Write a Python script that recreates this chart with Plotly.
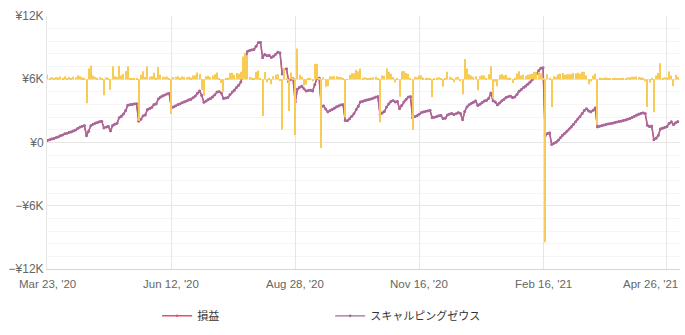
import numpy as np
import plotly.graph_objects as go

# Daily profit/loss in yen, one value per trading day
daily_pl = [
    190, 60, 80, 40, 90, 70, 110, 60, 120, 50,
    90, 40, 100, 80, 160, 120, 70, 60, -950, 420,
    530, 150, 90, 60, 80, 40, -630, 80, 60, -420,
    510, 120, 90, 520, 150, 210, 330, 510, 40, 30,
    40, 20, -1650, 180, 320, 90, 500, 100, 120, 260,
    60, 480, 180, 100, 90, 110, 40, -1370, 90, 100,
    120, 60, 110, 90, 80, 100, 60, 150, 160, 270,
    210, -420, -650, 120, 140, 90, 150, 200, 270, 40,
    -150, -500, 40, 60, 250, 260, 180, 250, 220, 300,
    900, 1050, 950, 90, 60, 40, 300, 350, 30, -1450,
    290, -120, 40, -200, 120, 180, 200, -60, -2000, 440,
    40, -1250, 270, 40, -2200, 1220, 180, 100, -250, -210,
    50, 30, -80, 600, 610, 20, -2720, 80, -300, -270,
    120, 110, 130, 120, 90, 90, 20, -1500, -20, 180,
    240, 240, 380, 320, 420, 60, 80, 50, 40, 60,
    80, 100, 40, -1700, 150, 140, 420, 300, 220, 90,
    -130, 40, -690, 320, 330, 250, 220, 40, -2010, 100,
    80, 150, 160, 70, 60, 40, 50, -700, 40, 60,
    80, 30, -300, 40, 300, 100, 60, -120, 80, 100,
    -80, -590, 800, 420, 200, 150, 100, 120, -430, 120,
    160, 150, 40, 200, 510, -750, -100, -280, 180, 200,
    150, 180, 60, 70, -150, 60, 240, 320, 150, 180,
    140, 180, 200, 220, 300, 280, 290, 240, 30, -6440,
    200, 60, -1100, 120, 100, 200, 220, 250, 180, 200,
    200, 200, 250, 240, 260, 220, 300, 300, 150, -200,
    -90, 150, 230, -1800, 60, 50, 60, 70, 40, 30,
    40, 60, 50, 50, 30, 60, 50, 80, 70, 100,
    100, 110, 90, 70, 60, -80, -1100, -130, 60, -1300,
    150, 250, 630, 60, 80, 70, 310, 150, -270, 180, 100,
]

# Category axis: tick every 57 trading days
tick_pos = [0, 57, 114, 171, 228, 285]
tick_labels = ["Mar 23, '20", "Jun 12, '20", "Aug 28, '20",
               "Nov 16, '20", "Feb 16, '21", "Apr 26, '21"]

y_ticks = [-12000, -6000, 0, 6000, 12000]
y_labels = ["\u2212\u00a512K", "\u2212\u00a56K", "\u00a50", "\u00a56K", "\u00a512K"]

days = np.arange(len(daily_pl))
cumulative = np.cumsum(daily_pl)

font = "Liberation Sans, Arial, Noto Sans CJK JP, sans-serif"
x_max = 291

fig = go.Figure()

fig.add_trace(go.Bar(
    x=days, y=daily_pl, yaxis="y2",
    marker=dict(color="#f8cb55", line=dict(width=0)),
    showlegend=False, hoverinfo="skip",
))

fig.add_trace(go.Scatter(
    x=days, y=cumulative, name="損益", mode="lines+markers",
    line=dict(color="#e4506c", width=1.6),
    marker=dict(color="#e4506c", size=2.5),
))

fig.add_trace(go.Scatter(
    x=days, y=cumulative, name="スキャルピングゼウス", mode="lines+markers",
    line=dict(color="#a4699e", width=1.2),
    marker=dict(color="#a4699e", size=2.8),
))

# x tick labels as annotations; the last one is kept inside the page edge
annotations = []
for i, (pos, lab) in enumerate(zip(tick_pos, tick_labels)):
    last = i == len(tick_pos) - 1
    annotations.append(dict(
        x=1.0 if last else pos, xref="paper" if last else "x",
        xanchor="right" if last else "center",
        y=-0.06, yref="paper", yanchor="middle",
        text=lab, showarrow=False,
        font=dict(family=font, size=11.5, color="#666666"),
    ))

fig.update_layout(
    width=685, height=335,
    margin=dict(l=47, r=5, t=16, b=64),
    paper_bgcolor="white", plot_bgcolor="white",
    font=dict(family=font, size=12, color="#666666"),
    bargap=0.5,
    showlegend=True,
    annotations=annotations,
    legend=dict(
        orientation="h", x=0.174, xanchor="left", y=-0.185, yanchor="middle",
        entrywidth=128, entrywidthmode="pixels",
        font=dict(family=font, size=11, color="#333333"),
        itemwidth=30,
    ),
    xaxis=dict(
        range=[-0.2, x_max], tickmode="array", tickvals=tick_pos,
        showticklabels=False,
        showgrid=True, gridcolor="#e6e6e6", gridwidth=1,
        showline=True, linecolor="#ccd6eb", linewidth=1,
        ticks="", zeroline=False,
    ),
    yaxis=dict(
        range=[-12000, 12000], tickmode="array", tickvals=y_ticks, ticktext=y_labels,
        showgrid=True, gridcolor="#e6e6e6", gridwidth=1,
        minor=dict(dtick=1200, showgrid=True, gridcolor="#f5f5f5", gridwidth=1),
        zeroline=False, ticks="", showline=True, linecolor="#e6e6e6",
        tickfont=dict(size=12, color="#666666"),
    ),
    yaxis2=dict(
        range=[-7500, 2500], overlaying="y", visible=False, showgrid=False,
    ),
)

fig.write_html("out.html")
